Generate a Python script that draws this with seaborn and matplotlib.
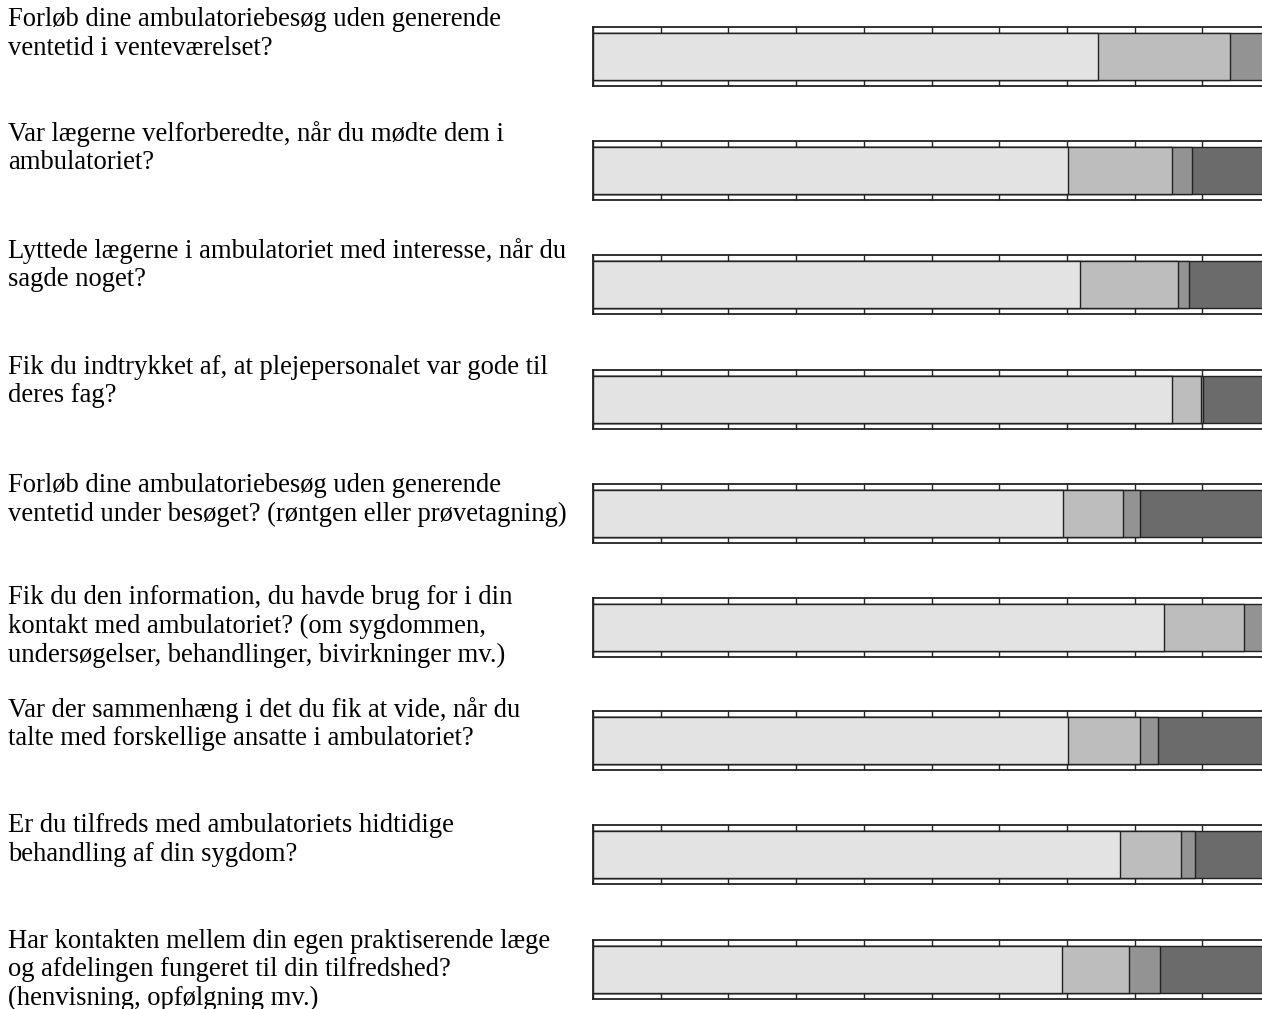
import matplotlib
matplotlib.use("Agg")
import matplotlib.pyplot as plt
import seaborn as sns
import pandas as pd

# spørgsmål (en liste af linjer pr. spørgsmål)
questions = [
    ["Forløb dine ambulatoriebesøg uden generende", "ventetid i venteværelset?"],
    ["Var lægerne velforberedte, når du mødte dem i", "ambulatoriet?"],
    ["Lyttede lægerne i ambulatoriet med interesse, når du", "sagde noget?"],
    ["Fik du indtrykket af, at plejepersonalet var gode til", "deres fag?"],
    ["Forløb dine ambulatoriebesøg uden generende",
     "ventetid under besøget? (røntgen eller prøvetagning)"],
    ["Fik du den information, du havde brug for i din",
     "kontakt med ambulatoriet? (om sygdommen,",
     "undersøgelser, behandlinger, bivirkninger mv.)"],
    ["Var der sammenhæng i det du fik at vide, når du",
     "talte med forskellige ansatte i ambulatoriet?"],
    ["Er du tilfreds med ambulatoriets hidtidige", "behandling af din sygdom?"],
    ["Har kontakten mellem din egen praktiserende læge",
     "og afdelingen fungeret til din tilfredshed?",
     "(henvisning, opfølgning mv.)"],
]

# andele i procent for hver svarkategori
seg1 = [74.6, 70.2, 71.9, 85.5, 69.4, 84.3, 70.2, 77.8, 69.3]
seg2 = [19.5, 15.3, 14.5, 4.3, 8.9, 11.9, 10.6, 9.1, 9.9]
seg3 = [5.9, 3.0, 1.6, 0.3, 2.5, 3.8, 2.7, 2.0, 4.6]
seg4 = [0.0, 11.5, 12.0, 9.9, 19.2, 0.0, 16.5, 11.1, 16.2]
seg_colors = ["#e3e3e3", "#bdbdbd", "#939393", "#6b6b6b"]

# layout i pixels
W, H = 1262, 1009
ax_left, ax_width, ax_height = 593, 677, 59
ax_tops = [27, 141, 255, 370, 484, 598, 711, 825, 940]
text_first = [20, 134, 251, 367, 486, 598, 710, 826, 941]
line_step = 28.5

sns.set_theme(style="white")
plt.rcParams["font.family"] = ["Liberation Serif", "DejaVu Serif"]

fig = plt.figure(figsize=(W / 100, H / 100), dpi=100)

segs = [seg1, seg2, seg3, seg4]
for i, q in enumerate(questions):
    top = ax_tops[i]
    ax = fig.add_axes([ax_left / W, 1 - (top + ax_height) / H,
                       ax_width / W, ax_height / H])
    vals = [s[i] for s in segs]
    cums = []
    c = 0
    for v in vals:
        c += v
        cums.append(c)
    # tegn fra største kumulative værdi og ned, så segmenterne stables
    for k in reversed(range(4)):
        if vals[k] <= 0:
            continue
        df = pd.DataFrame({"x": [cums[k]], "y": ["q"]})
        sns.barplot(data=df, x="x", y="y", orient="h", color=seg_colors[k],
                    saturation=1, width=0.78, edgecolor="#222222",
                    linewidth=1.0, ax=ax)
    ax.set_xlim(0, 100)
    ax.set_ylim(0.5, -0.5)
    ax.set_xticks(range(0, 101, 10))
    ax.set_yticks([])
    ax.set_xlabel("")
    ax.set_ylabel("")
    ax.tick_params(axis="x", direction="in", top=True, bottom=True,
                   length=4.6, width=1.0, color="#222222",
                   labelbottom=False, labeltop=False)
    for sp in ax.spines.values():
        sp.set_visible(True)
        sp.set_color("#222222")
        sp.set_linewidth(1.3)

    for j, line in enumerate(q):
        y = text_first[i] + j * line_step
        fig.text(8 / W, 1 - y / H, line, fontsize=19.2, va="center",
                 ha="left", color="black")

fig.savefig("out.png", dpi=100)
